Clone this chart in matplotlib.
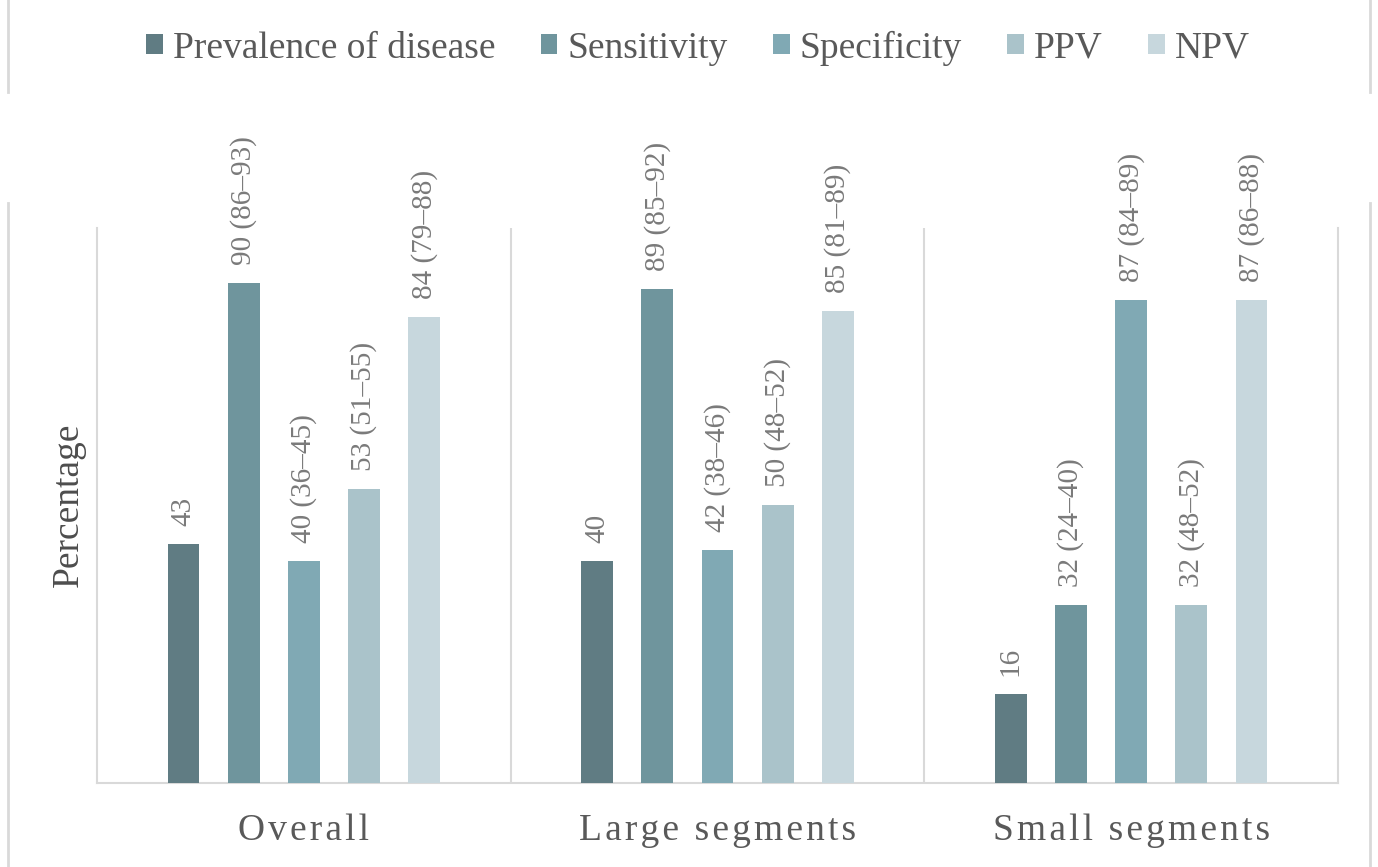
import matplotlib
matplotlib.use("Agg")
import matplotlib.pyplot as plt
from matplotlib.patches import Patch
from matplotlib.lines import Line2D
import numpy as np

categories = ["Overall", "Large segments", "Small segments"]
series = ["Prevalence of disease", "Sensitivity", "Specificity", "PPV", "NPV"]
prevalence = [43, 40, 16]
sensitivity = [90, 89, 32]
specificity = [40, 42, 87]
ppv = [53, 50, 32]
npv = [84, 85, 87]
labels_prevalence = ["43", "40", "16"]
labels_sensitivity = ["90 (86–93)", "89 (85–92)", "32 (24–40)"]
labels_specificity = ["40 (36–45)", "42 (38–46)", "87 (84–89)"]
labels_ppv = ["53 (51–55)", "50 (48–52)", "32 (48–52)"]
labels_npv = ["84 (79–88)", "85 (81–89)", "87 (86–88)"]

values = [prevalence, sensitivity, specificity, ppv, npv]
labels = [labels_prevalence, labels_sensitivity, labels_specificity, labels_ppv, labels_npv]
colors = ["#607c83", "#6f959d", "#80a9b4", "#aac3ca", "#c7d7dd"]

SERIF = ["Liberation Serif", "DejaVu Serif"]
plt.rcParams["font.family"] = SERIF

W, H = 1378, 867
fig = plt.figure(figsize=(W / 100, H / 100), dpi=100)
ax = fig.add_axes([97 / W, 1 - 783 / H, (1338 - 97) / W, (783 - 228) / H])

x = np.arange(len(categories))
pitch = 0.1455
width = 0.077
for i, (vals, labs, col) in enumerate(zip(values, labels, colors)):
    pos = x + (i - 2) * pitch
    bars = ax.bar(pos, vals, width=width, color=col, zorder=3)
    for b, lab in zip(bars, labs):
        ax.annotate(lab, (b.get_x() + b.get_width() / 2, b.get_height()),
                    xytext=(0, 13), textcoords="offset points",
                    rotation=90, ha="center", va="bottom",
                    fontsize=21, color="#7a7a7a")

ax.set_xlim(-0.5, 2.5)
ax.set_ylim(0, 100)
ax.set_yticks([])
gray = "#d9d9d9"
for s in ["left", "right", "bottom"]:
    ax.spines[s].set_color(gray)
    ax.spines[s].set_linewidth(1.5)
ax.spines["top"].set_visible(False)
for xv in [0.5, 1.5]:
    ax.axvline(xv, color=gray, lw=1.5, zorder=1)

def spaced(s):
    return "\u200a".join(list(s))

ax.set_xticks(x)
ax.set_xticklabels([spaced(c) for c in categories], fontsize=27, color="#595959")
ax.tick_params(axis="x", length=0, pad=22)
ax.set_ylabel("Percentage", fontsize=27, color="#4d4d4d")
ax.yaxis.set_label_coords(-(97 - 86) / (1338 - 97), (783 - 505) / (783 - 228))

handles = [Patch(facecolor=c, edgecolor="none") for c in colors]
fig.legend(handles, series, loc="center", bbox_to_anchor=(698 / W, 1 - 48 / H),
           ncol=5, frameon=False, fontsize=27, labelcolor="#595959",
           handlelength=0.45, handleheight=0.45, handletextpad=0.27,
           columnspacing=1.2, borderaxespad=0)

# outer frame fragments
for xf in [8, 1370]:
    fig.add_artist(Line2D([xf / W, xf / W], [1 - 0 / H, 1 - 92 / H], color=gray, lw=2))
    fig.add_artist(Line2D([xf / W, xf / W], [1 - 203 / H, 0], color=gray, lw=2))

fig.savefig("out.png", dpi=100)
